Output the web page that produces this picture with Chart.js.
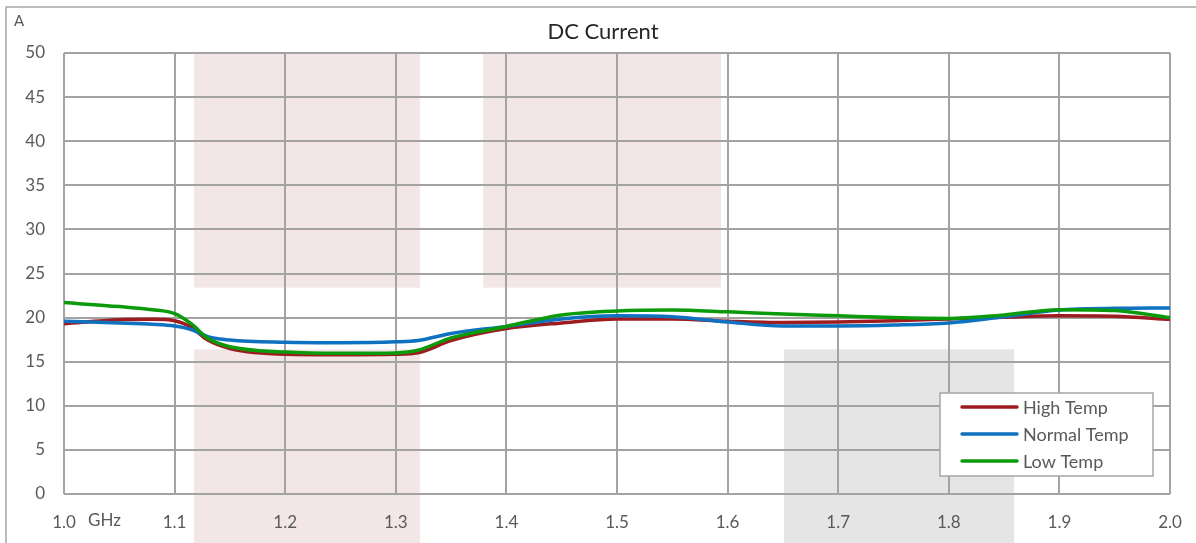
<!DOCTYPE html>
<html>
<head>
<meta charset="utf-8">
<script src="https://cdn.jsdelivr.net/npm/chart.js@4"></script>
<style>
  html, body { margin: 0; padding: 0; background: #fff; }
  #wrap { width: 1196px; height: 543px; }
</style>
</head>
<body>
<div id="wrap"><canvas id="dcChart" width="1196" height="543"></canvas></div>
<script>
// Frequency points (GHz)
const freq = [1.0, 1.05, 1.08, 1.1, 1.115, 1.13, 1.15, 1.2, 1.25, 1.3, 1.32, 1.35, 1.4, 1.45, 1.5, 1.55, 1.6, 1.65, 1.7, 1.75, 1.8, 1.85, 1.9, 1.95, 2.0];

// DC current (A)
const highTemp   = [19.3, 19.75, 19.8, 19.65, 18.9, 17.45, 16.5, 15.85, 15.8, 15.85, 16.0, 17.4, 18.75, 19.4, 19.85, 19.85, 19.6, 19.45, 19.5, 19.65, 19.85, 20.05, 20.2, 20.15, 19.8];
const normalTemp = [19.6, 19.4, 19.25, 19.05, 18.65, 17.85, 17.45, 17.2, 17.15, 17.25, 17.4, 18.2, 19.0, 19.85, 20.2, 20.1, 19.5, 19.05, 19.05, 19.15, 19.4, 20.1, 20.85, 21.05, 21.1];
const lowTemp    = [21.7, 21.25, 20.9, 20.45, 19.3, 17.65, 16.7, 16.1, 15.95, 16.0, 16.3, 17.7, 19.0, 20.3, 20.75, 20.85, 20.65, 20.4, 20.2, 20.0, 19.9, 20.3, 20.9, 20.8, 20.0];

const seriesNames = ['High Temp', 'Normal Temp', 'Low Temp'];

// Spec windows shaded on the plot: [xFrom, xTo, yFrom, yTo] (null yFrom = down to bottom edge)
const pinkBands = [[1.1175, 1.322, 23.4, 50], [1.1175, 1.322, null, 16.4], [1.379, 1.594, 23.4, 50]];
const grayBands = [[1.651, 1.859, null, 16.4]];

const xTicks = [1.0, 1.1, 1.2, 1.3, 1.4, 1.5, 1.6, 1.7, 1.8, 1.9, 2.0];

const FONT = "Lato, 'Open Sans', sans-serif";
const TEXT = '#595959';
const GRID = '#a3a3a3';

function toPoints(values) {
    return freq.map((f, i) => ({ x: f, y: values[i] }));
}

// shaded bands behind the grid
const bandsPlugin = {
    id: 'bands',
    beforeDraw(chart) {
        const { ctx, scales: { x, y } } = chart;
        const paint = (bands, color) => {
            ctx.fillStyle = color;
            bands.forEach(b => {
                const x0 = x.getPixelForValue(b[0]);
                const x1 = x.getPixelForValue(b[1]);
                const yTop = y.getPixelForValue(b[3]);
                const yBot = b[2] === null ? chart.height : y.getPixelForValue(b[2]);
                ctx.fillRect(x0, yTop, x1 - x0, yBot - yTop);
            });
        };
        ctx.save();
        paint(pinkBands, '#f3e6e6');
        paint(grayBands, '#e5e5e5');
        ctx.restore();
    }
};

// frame, title, unit labels and legend box
const decorPlugin = {
    id: 'decor',
    afterDraw(chart) {
        const { ctx, chartArea: ca, scales: { x } } = chart;
        ctx.save();

        // outer frame (top + left edge)
        ctx.strokeStyle = '#a6a6a6';
        ctx.lineWidth = 1.5;
        ctx.beginPath();
        ctx.moveTo(chart.width, 7);
        ctx.lineTo(6, 7);
        ctx.lineTo(6, chart.height);
        ctx.stroke();

        // title
        ctx.fillStyle = '#262626';
        ctx.font = "22px " + FONT;
        ctx.textAlign = 'center';
        ctx.textBaseline = 'middle';
        ctx.fillText('DC Current', 603, 32);

        // units
        ctx.fillStyle = TEXT;
        ctx.font = "15px " + FONT;
        ctx.textAlign = 'left';
        ctx.fillText('A', 14, 21);
        ctx.font = "17px " + FONT;
        ctx.fillText('GHz', x.getPixelForValue(1.0) + 24, ca.bottom + 27);

        // legend
        const w = 213, h = 83;
        const lx = ca.right - 17 - w, ly = ca.bottom - 18 - h;
        ctx.fillStyle = '#fff';
        ctx.fillRect(lx, ly, w, h);
        ctx.strokeStyle = '#a6a6a6';
        ctx.lineWidth = 1.5;
        ctx.strokeRect(lx, ly, w, h);
        ctx.font = "18px " + FONT;
        ctx.textBaseline = 'middle';
        seriesNames.forEach((name, i) => {
            const ds = chart.data.datasets[i];
            const cy = ly + 14 + i * 27;
            ctx.strokeStyle = ds.borderColor;
            ctx.lineWidth = 3.5;
            ctx.lineCap = 'round';
            ctx.beginPath();
            ctx.moveTo(lx + 22, cy);
            ctx.lineTo(lx + 77, cy);
            ctx.stroke();
            ctx.fillStyle = TEXT;
            ctx.fillText(name, lx + 83, cy + 1);
        });
        ctx.restore();
    }
};

const ctx = document.getElementById('dcChart').getContext('2d');
new Chart(ctx, {
    type: 'line',
    data: {
        datasets: [
            { label: seriesNames[0], data: toPoints(highTemp),   borderColor: '#9e1b20', order: 2 },
            { label: seriesNames[1], data: toPoints(normalTemp), borderColor: '#0e72c0', order: 1 },
            { label: seriesNames[2], data: toPoints(lowTemp),    borderColor: '#0a9a0a', order: 0 }
        ].map(d => Object.assign(d, {
            borderWidth: 3.5,
            pointRadius: 0,
            fill: false,
            cubicInterpolationMode: 'monotone'
        }))
    },
    options: {
        responsive: false,
        animation: false,
        layout: { padding: { top: 53, right: 26, left: 0, bottom: 0 } },
        plugins: {
            legend: { display: false },
            title: { display: false },
            tooltip: { enabled: false }
        },
        scales: {
            x: {
                type: 'linear',
                min: 1.0,
                max: 2.0,
                afterFit: s => { s.height = 49; s.paddingLeft = 0; s.paddingRight = 0; },
                afterBuildTicks: s => { s.ticks = xTicks.map(v => ({ value: v })); },
                grid: { color: GRID, lineWidth: 2, drawTicks: false },
                border: { display: false },
                ticks: {
                    padding: 18,
                    color: TEXT,
                    font: { family: FONT, size: 17 },
                    maxRotation: 0,
                    callback: v => v.toFixed(1)
                }
            },
            y: {
                min: 0,
                max: 50,
                afterFit: s => { s.width = 64; },
                grid: { color: GRID, lineWidth: 2, drawTicks: false },
                border: { display: false },
                ticks: {
                    stepSize: 5,
                    padding: 19,
                    color: TEXT,
                    font: { family: FONT, size: 17 }
                }
            }
        }
    },
    plugins: [bandsPlugin, decorPlugin]
});
</script>
</body>
</html>
